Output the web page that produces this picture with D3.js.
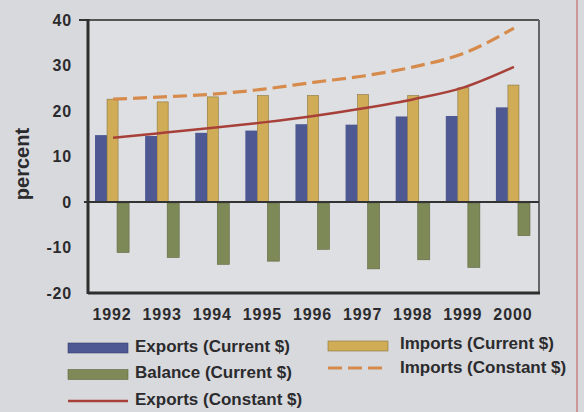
<!DOCTYPE html>
<html><head><meta charset="utf-8">
<script src="https://cdn.jsdelivr.net/npm/d3@7"></script>
<style>body{margin:0;background:#d8d9dc;}svg{display:block;font-family:"Liberation Sans",Arial,sans-serif;font-weight:bold;}</style>
</head><body>
<svg id="c" width="584" height="412"></svg>
<script>
const years = ["1992","1993","1994","1995","1996","1997","1998","1999","2000"];
const exportsCurrent = [14.7,14.5,15.2,15.7,17.1,17.0,18.8,18.9,20.8];
const importsCurrent = [22.6,22.0,23.1,23.4,23.4,23.6,23.4,25.1,25.7];
const balanceCurrent = [-11.1,-12.2,-13.7,-13.0,-10.4,-14.7,-12.7,-14.4,-7.4];
const exportsConstant = [14.1,15.2,16.3,17.5,18.9,20.6,22.6,25.2,29.7];
const importsConstant = [22.6,23.1,23.7,24.8,26.3,27.7,29.7,32.7,38.2];
const yTicks = [40,30,20,10,0,-10,-20];

const svg = d3.select("#c");
const L=88,R=539,T=20,B=293;
const x = d3.scaleBand().domain(years).range([L,R]).padding(0);
const y = d3.scaleLinear().domain([-20,40]).range([B,T]);
const bw = x.bandwidth();
const ink = "#2b2b2e";

svg.append("rect").attr("x",L).attr("y",T).attr("width",R-L).attr("height",B-T).attr("fill","#dedfe2");

const col = {exp:"#4e5892",imp:"#cfac55",bal:"#7d8a58",expC:"#a8403a",impC:"#d68b4c"};

// bars
const g = svg.append("g");
g.selectAll(".exp").data(years).join("rect")
 .attr("x",d=>x(d)+bw*0.14).attr("width",bw*0.24)
 .attr("y",(d,i)=>y(exportsCurrent[i])).attr("height",(d,i)=>y(0)-y(exportsCurrent[i]))
 .attr("fill",col.exp);
g.selectAll(".imp").data(years).join("rect")
 .attr("x",d=>x(d)+bw*0.38).attr("width",bw*0.22)
 .attr("y",(d,i)=>y(importsCurrent[i])).attr("height",(d,i)=>y(0)-y(importsCurrent[i]))
 .attr("fill",col.imp).attr("stroke","#8a7440").attr("stroke-width",0.6);
g.selectAll(".bal").data(years).join("rect")
 .attr("x",d=>x(d)+bw*0.58).attr("width",bw*0.24)
 .attr("y",y(0)+1).attr("height",(d,i)=>y(balanceCurrent[i])-y(0)-1)
 .attr("fill",col.bal).attr("stroke","#5e6640").attr("stroke-width",0.6);

// frame
svg.append("line").attr("x1",L).attr("x2",R).attr("y1",T).attr("y2",T).attr("stroke","#555").attr("stroke-width",2);
svg.append("line").attr("x1",R).attr("x2",R).attr("y1",T).attr("y2",B).attr("stroke","#666").attr("stroke-width",2);
svg.append("line").attr("x1",79).attr("x2",L).attr("y1",T).attr("y2",T).attr("stroke","#333").attr("stroke-width",2);
svg.append("line").attr("x1",84).attr("x2",R).attr("y1",y(0)).attr("y2",y(0)).attr("stroke","#333").attr("stroke-width",2);
svg.append("line").attr("x1",L).attr("x2",R+1).attr("y1",B).attr("y2",B).attr("stroke","#2e2e2e").attr("stroke-width",3);
svg.append("line").attr("x1",L).attr("x2",L).attr("y1",T-1).attr("y2",B+1).attr("stroke","#2e2e2e").attr("stroke-width",3);

// lines
const line = d3.line().x((d,i)=>x(years[i])+bw/2).y(d=>y(d)).curve(d3.curveMonotoneX);
svg.append("path").datum(importsConstant).attr("d",line).attr("fill","none")
 .attr("stroke",col.impC).attr("stroke-width",3.2).attr("stroke-dasharray","14,6");
svg.append("path").datum(exportsConstant).attr("d",line).attr("fill","none")
 .attr("stroke",col.expC).attr("stroke-width",2.5);

// y tick labels
svg.selectAll(".yt").data(yTicks).join("text")
 .attr("x",72).attr("y",d=>y(d)).attr("dy","0.36em").attr("text-anchor","end")
 .attr("font-size",16).attr("letter-spacing",0.8).attr("fill",ink).text(d=>d);
// x labels
svg.selectAll(".xt").data(years).join("text")
 .attr("x",d=>x(d)+bw/2-1).attr("y",320).attr("text-anchor","middle")
 .attr("font-size",16).attr("letter-spacing",0.9).attr("fill",ink).text(d=>d);
// axis title
svg.append("text").attr("transform","translate(29,164) rotate(-90)").attr("text-anchor","middle")
 .attr("font-size",20).attr("fill",ink).text("percent");

// legend
const leg = [
 {t:"Exports (Current $)",type:"rect",c:col.exp,s:"#3a4070",x:68,y:348,ty:352,tx:135},
 {t:"Balance (Current $)",type:"rect",c:col.bal,s:"#5e6640",x:68,y:374.5,ty:378,tx:135},
 {t:"Exports (Constant $)",type:"line",c:col.expC,x:68,y:401,ty:405,tx:135},
 {t:"Imports (Current $)",type:"rect",c:col.imp,s:"#8a7440",x:328,y:346,ty:348.5,tx:400},
 {t:"Imports (Constant $)",type:"dash",c:col.impC,x:328,y:368,ty:373,tx:400}
];
leg.forEach(l=>{
  if(l.type==="rect"){
    svg.append("rect").attr("x",l.x).attr("y",l.y-5).attr("width",60).attr("height",10).attr("fill",l.c).attr("stroke",l.s).attr("stroke-width",0.6);
  } else {
    svg.append("line").attr("x1",l.x).attr("x2",l.x+60).attr("y1",l.y).attr("y2",l.y).attr("stroke",l.c).attr("stroke-width",l.type==="dash"?3.2:2.5)
      .attr("stroke-dasharray",l.type==="dash"?"14,6":null);
  }
  svg.append("text").attr("x",l.tx).attr("y",l.ty).attr("font-size",17).attr("fill",ink).text(l.t);
});

// page edge line
svg.append("line").attr("x1",577).attr("x2",577).attr("y1",0).attr("y2",412).attr("stroke","#c0554d").attr("stroke-width",1);
</script>
</body></html>
